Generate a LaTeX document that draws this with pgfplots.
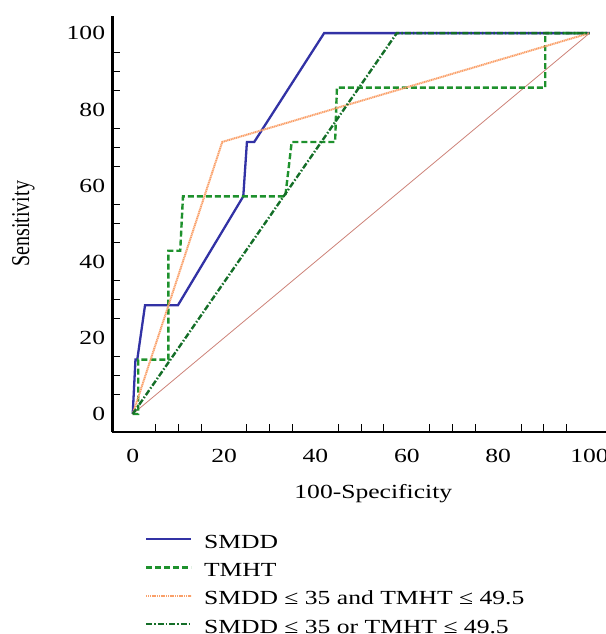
\documentclass[border=0pt]{standalone}
\usepackage{fontspec}
\setmainfont{Liberation Serif}[FakeStretch=1.28]
\newfontfamily\plainserif{Liberation Serif}
\usepackage{graphicx}
\usepackage{pgfplots}
\pgfplotsset{compat=1.18}
\definecolor{smddc}{RGB}{50,50,165}
\definecolor{tmhtc}{RGB}{30,145,45}
\definecolor{andc}{RGB}{250,160,105}
\definecolor{orc}{RGB}{20,110,40}
\definecolor{diagc}{RGB}{205,130,120}
\newcommand\fs{\fontsize{20bp}{24bp}\selectfont}

\begin{document}
\begin{tikzpicture}
\begin{axis}[name=ax,
    scale only axis, width=493.7bp, height=416bp,
    xmin=-4.47, xmax=103.6, ymin=-4.72, ymax=104.5,
    axis x line=bottom, axis y line=left,
    axis line style={-, line width=2.8bp, black},
    xtick={0,20,...,100}, ytick={0,20,...,100},
    minor tick num=3, major tick length=0pt, minor tick length=8bp,
    tick align=inside, tick style={black, line width=1bp},
    /pgf/number format/assume math mode=true,
    tick label style={font=\fs},
    xticklabel style={anchor=base, yshift=-30bp},
    yticklabel style={anchor=base east, inner sep=0pt, xshift=-7bp, yshift=-6.8bp},
    xlabel={100-Specificity},
    ylabel={\scalebox{1}[1.28]{\plainserif Sensitivity}},
    every axis x label/.style={at={(axis description cs:0.5287,-0.161)}, anchor=base, font=\fs},
    every axis y label/.style={at={(axis description cs:-0.1799,0.5007)}, anchor=center, rotate=90, font=\fs},
    legend cell align=left,
    legend style={at={(axis description cs:0.0662,-0.2459)}, anchor=north west,
        draw=none, fill=none, inner sep=0pt, outer sep=0pt,
        row sep=10.3bp, column sep=0pt, font=\fs,
        nodes={inner sep=0pt, text height=14bp, text depth=4bp}},
    legend image code/.code={\draw[#1] (0bp,4bp) -- (45bp,4bp); \path (56.7bp,4bp);},
]
% reference line
\addplot[diagc, line width=0.8bp, forget plot] coordinates {(0,0) (100,100)};

\addplot[smddc, line width=2.3bp] coordinates {
    (0,0) (0.6,14.29) (1.0,14.29) (2.7,28.57) (9.9,28.57) (24.2,57.14)
    (25.0,71.43) (26.6,71.43) (41.9,100) (100,100)};
\addlegendentry{SMDD}

\addplot[tmhtc, line width=2.4bp, dash pattern=on 6bp off 3bp] coordinates {
    (0,0) (1.2,0) (1.2,14.29) (7.8,14.29) (7.8,42.86) (10.4,42.86) (11.0,57.14)
    (33.4,57.14) (34.8,71.43) (44.3,71.43) (44.7,85.71) (90.3,85.71) (90.3,100) (100,100)};
\addlegendentry{TMHT}

\addplot[andc, line width=2bp, dash pattern=on 1.2bp off 0.6bp] coordinates {
    (0,0) (19.6,71.43) (100,100)};
\addlegendentry{SMDD ≤ 35 and TMHT ≤ 49.5}

\addplot[orc, line width=2.4bp, dash pattern=on 6bp off 2bp on 1.5bp off 2bp] coordinates {
    (0,0) (57.8,100) (100,100)};
\addlegendentry{SMDD ≤ 35 or TMHT ≤ 49.5}
\end{axis}
\pgfresetboundingbox
\path[use as bounding box] ([xshift=-112.3bp,yshift=-202bp]ax.south west) rectangle ([yshift=16bp]ax.north east);
\end{tikzpicture}
\end{document}
